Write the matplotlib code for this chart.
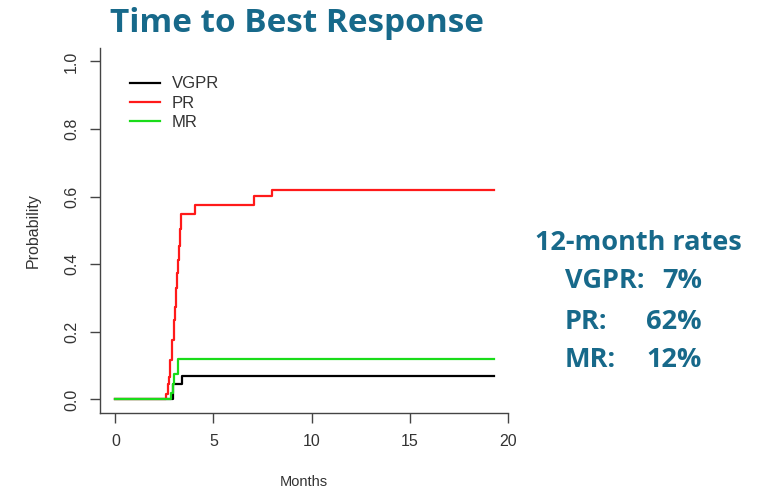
import matplotlib
matplotlib.use("Agg")
import matplotlib.pyplot as plt

# Datos (meses, probabilidad acumulada)
meses_vgpr = [0, 2.96, 3.38, 19.3]
prob_vgpr = [0, 0.045, 0.07, 0.07]

meses_pr = [0, 2.59, 2.67, 2.72, 2.79, 2.87, 2.97, 3.04, 3.10, 3.13, 3.18, 3.23, 3.30, 3.35, 4.08, 7.06, 7.98, 19.3]
prob_pr = [0, 0.017, 0.047, 0.066, 0.116, 0.176, 0.235, 0.275, 0.33, 0.374, 0.414, 0.454, 0.503, 0.55, 0.576, 0.603, 0.62, 0.62]

meses_mr = [0, 2.85, 2.92, 3.0, 3.18, 19.3]
prob_mr = [0, 0.02, 0.047, 0.076, 0.12, 0.12]

series = ['VGPR', 'PR', 'MR']
cores = ['black', '#ff1a1a', '#1adc1a']
taxas = ['7%', '62%', '12%']

AZUL = '#17698a'
CINZA = '#444444'

fig = plt.figure(figsize=(7.67, 4.91), dpi=100)
ax = fig.add_axes([0.1304, 0.1589, 0.5524, 0.7434])

dados = [(meses_vgpr, prob_vgpr), (meses_pr, prob_pr), (meses_mr, prob_mr)]
for nome, cor, (x, y) in zip(series, cores, dados):
    ax.step(x, y, where='post', color=cor, lw=1.6, label=nome)

ax.set_xlim(-0.78, 20.8)
ax.set_ylim(-0.04, 1.04)
ax.set_xticks([0, 5, 10, 15, 20])
ax.set_yticks([0.0, 0.2, 0.4, 0.6, 0.8, 1.0])
ax.set_yticklabels(['0.0', '0.2', '0.4', '0.6', '0.8', '1.0'], rotation=90, va='center')

for s in ['top', 'right']:
    ax.spines[s].set_visible(False)
for s in ['left', 'bottom']:
    ax.spines[s].set_color(CINZA)
    ax.spines[s].set_linewidth(1.0)
ax.spines['bottom'].set_bounds(-0.78, 20)

ax.tick_params(colors=CINZA, labelcolor='#333333', labelsize=11.5, length=7, width=1.0, pad=8,
               labelfontfamily='Liberation Sans')

ax.set_xlabel('Months', fontsize=10.5, color='#333333', family='Liberation Sans')
ax.xaxis.set_label_coords(0.482, -0.17)
ax.set_ylabel('Probability', fontsize=11.5, color='#333333', family='Liberation Sans')
ax.yaxis.set_label_coords(-0.141, 0.5)

leg = ax.legend(loc='upper left', bbox_to_anchor=(0.035, 0.963), frameon=False,
                prop={'family': 'Liberation Sans', 'size': 12}, handlelength=1.8,
                handletextpad=0.7, labelspacing=0.26)
for t in leg.get_texts():
    t.set_color('#333333')

fig.text(0.387, 0.952, 'Time to Best Response', ha='center', va='center',
         fontsize=24, fontweight='bold', color=AZUL, family='Open Sans')

fig.text(0.697, 0.505, '12-month rates', ha='left', va='center',
         fontsize=19.5, fontweight='bold', color=AZUL, family='Open Sans')
linhas_y = [0.428, 0.344, 0.267]
for nome, taxa, yy in zip(series, taxas, linhas_y):
    fig.text(0.736, yy, nome + ':', ha='left', va='center',
             fontsize=19.5, fontweight='bold', color=AZUL, family='Open Sans')
    fig.text(0.915, yy, taxa, ha='right', va='center',
             fontsize=19.5, fontweight='bold', color=AZUL, family='Open Sans')

fig.savefig('out.png', dpi=100)
